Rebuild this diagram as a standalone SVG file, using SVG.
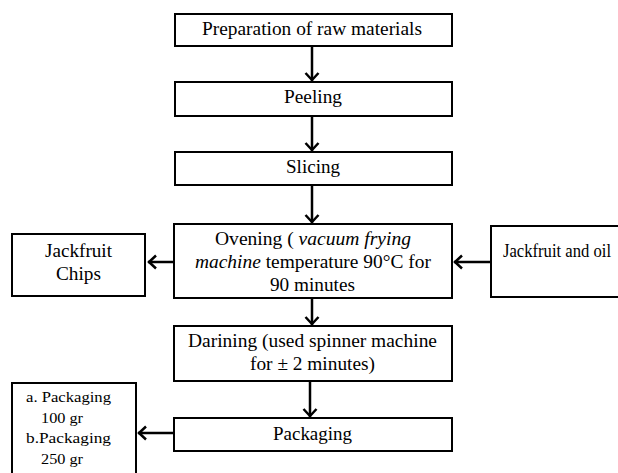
<svg xmlns="http://www.w3.org/2000/svg" width="618" height="473" viewBox="0 0 618 473">
<style>
.box{fill:#fff;stroke:#000;stroke-width:2}
.t{font-family:"Liberation Serif","Times New Roman",serif;font-size:18px;fill:#000;text-anchor:middle}
.s{font-family:"Liberation Serif","Times New Roman",serif;font-size:14.5px;fill:#000}
.c{stroke:#000;stroke-width:2.5;fill:none}
</style>
<defs>
<marker id="ah" markerUnits="userSpaceOnUse" markerWidth="20" markerHeight="20" refX="1" refY="0" viewBox="-10 -10 20 20" orient="auto" overflow="visible">
<path d="M-7,-6.5 L0,0 L-7,6.5" fill="none" stroke="#000" stroke-width="2.5"/>
</marker>
</defs>
<rect width="618" height="473" fill="#fff"/>
<g id="connectors">
<line class="c" x1="312" y1="47" x2="312" y2="81" marker-end="url(#ah)"/>
<line class="c" x1="312" y1="117" x2="312" y2="151" marker-end="url(#ah)"/>
<line class="c" x1="312" y1="186" x2="312" y2="223" marker-end="url(#ah)"/>
<line class="c" x1="174" y1="262" x2="148" y2="262" marker-end="url(#ah)"/>
<line class="c" x1="491" y1="262" x2="454" y2="262" marker-end="url(#ah)"/>
<line class="c" x1="312" y1="299" x2="312" y2="325" marker-end="url(#ah)"/>
<line class="c" x1="310" y1="382" x2="310" y2="417" marker-end="url(#ah)"/>
<line class="c" x1="174" y1="433" x2="138" y2="433" marker-end="url(#ah)"/>
</g>
<g id="prep">
<rect class="box" x="175" y="14" width="277" height="32"/>
<text class="t" x="312" y="35" textLength="220" lengthAdjust="spacingAndGlyphs">Preparation of raw materials</text>
</g>
<g id="peeling">
<rect class="box" x="175" y="82" width="277" height="34"/>
<text class="t" x="313" y="103" textLength="58" lengthAdjust="spacingAndGlyphs">Peeling</text>
</g>
<g id="slicing">
<rect class="box" x="175" y="152" width="277" height="33"/>
<text class="t" x="313" y="173" textLength="54" lengthAdjust="spacingAndGlyphs">Slicing</text>
</g>
<g id="ovening">
<rect class="box" x="174" y="224" width="278" height="74"/>
<text class="t" x="313" y="245" textLength="196" lengthAdjust="spacingAndGlyphs">Ovening ( <tspan font-style="italic">vacuum frying</tspan></text>
<text class="t" x="313" y="268" textLength="236" lengthAdjust="spacingAndGlyphs"><tspan font-style="italic">machine</tspan> temperature 90°C for</text>
<text class="t" x="312.5" y="291" textLength="85" lengthAdjust="spacingAndGlyphs">90 minutes</text>
</g>
<g id="chips">
<rect class="box" x="12" y="234" width="133" height="62"/>
<text class="t" x="78.5" y="257" textLength="67" lengthAdjust="spacingAndGlyphs">Jackfruit</text>
<text class="t" x="78.5" y="280" textLength="45" lengthAdjust="spacingAndGlyphs">Chips</text>
</g>
<g id="oil">
<rect class="box" x="491" y="226" width="140" height="71"/>
<text class="t" x="557" y="257" font-size="16.5" textLength="108" lengthAdjust="spacingAndGlyphs">Jackfruit and oil</text>
</g>
<g id="darining">
<rect class="box" x="174" y="326" width="278" height="55"/>
<text class="t" x="312.5" y="347" textLength="249" lengthAdjust="spacingAndGlyphs">Darining (used spinner machine</text>
<text class="t" x="312.5" y="370" textLength="125" lengthAdjust="spacingAndGlyphs">for ± 2 minutes)</text>
</g>
<g id="packaging">
<rect class="box" x="174" y="418" width="278" height="33"/>
<text class="t" x="312.5" y="440" textLength="79" lengthAdjust="spacingAndGlyphs">Packaging</text>
</g>
<g id="sizes">
<rect class="box" x="12" y="383" width="124" height="100"/>
<text class="s" x="26" y="402" textLength="85" lengthAdjust="spacingAndGlyphs">a. Packaging</text>
<text class="s" x="41" y="423" textLength="42" lengthAdjust="spacingAndGlyphs">100 gr</text>
<text class="s" x="26" y="443" textLength="85" lengthAdjust="spacingAndGlyphs">b.Packaging</text>
<text class="s" x="41" y="464" textLength="42" lengthAdjust="spacingAndGlyphs">250 gr</text>
</g>
</svg>
